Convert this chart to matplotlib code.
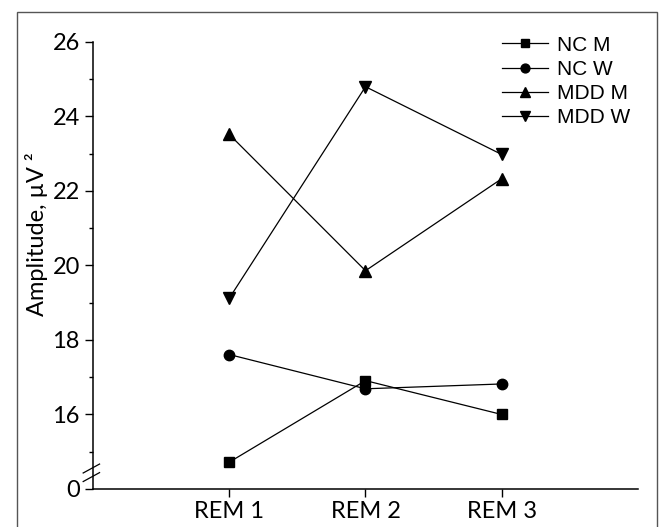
import numpy as np
import matplotlib.pyplot as plt
from matplotlib.patches import Rectangle
from matplotlib.lines import Line2D

# data
stages = ["REM 1", "REM 2", "REM 3"]
nc_m = [14.72, 16.91, 16.0]
nc_w = [17.61, 16.69, 16.82]
mdd_m = [23.52, 19.86, 22.33]
mdd_w = [19.12, 24.80, 22.98]
y_major = [14, 16, 18, 20, 22, 24, 26]
y_labels = ["0", "16", "18", "20", "22", "24", "26"]

plt.rcParams['font.family'] = ['Lato', 'DejaVu Sans']

fig = plt.figure(figsize=(6.63, 5.27), dpi=100)
ax = fig.add_axes([93 / 663, 1 - 489 / 527, (638 - 93) / 663, (489 - 42) / 527])

# figure frame
fig.patches.append(Rectangle((17 / 663, -0.02), (657 - 17) / 663, 1 - 12 / 527 + 0.02,
                             transform=fig.transFigure, fill=False,
                             edgecolor='#555555', linewidth=1.0))

x = np.arange(1, len(stages) + 1)
series = [(nc_m, 's', 7, "NC M"), (nc_w, 'o', 7.5, "NC W"),
          (mdd_m, '^', 8.5, "MDD M"), (mdd_w, 'v', 8.5, "MDD W")]
for vals, mk, ms, lab in series:
    ax.plot(x, vals, color='black', linewidth=0.9, marker=mk, markersize=ms, label=lab)

ax.set_xlim(0, 4)
ax.set_ylim(14, 26)
ax.set_xticks(x)
ax.set_xticklabels(stages, fontsize=17)
ax.set_yticks(y_major)
ax.set_yticklabels(y_labels, fontsize=17)
ax.set_yticks(np.arange(15, 26, 2), minor=True)
ax.tick_params(axis='both', width=1, length=5.5, color='black')
ax.tick_params(axis='y', which='minor', length=3, width=1)
ax.tick_params(axis='x', pad=3.5)
ax.tick_params(axis='y', pad=4)
for s in ['top', 'right']:
    ax.spines[s].set_visible(False)
for s in ['left', 'bottom']:
    ax.spines[s].set_linewidth(1.1)

ax.set_ylabel("Amplitude, \u00b5V \u00b2", fontsize=17)
ax.yaxis.set_label_coords(-0.083, 0.571)

# axis break marks
tr = ax.get_yaxis_transform()
for yv in (14.32, 14.55):
    ax.plot([-0.018, 0.012], [yv - 0.12, yv + 0.12], transform=tr,
            color='black', linewidth=0.9, clip_on=False)

handles = [Line2D([0], [0], color='black', linewidth=0.9, marker=mk, markersize=ms * 0.85)
           for _, mk, ms, _ in series]
leg = ax.legend(handles, [s[3] for s in series], loc='upper left',
                bbox_to_anchor=(0.716, 1.056), frameon=False,
                prop={'family': 'Liberation Sans', 'size': 15},
                handlelength=2.2, handletextpad=0.45, labelspacing=0.25)

fig.savefig("out.png", dpi=100)
